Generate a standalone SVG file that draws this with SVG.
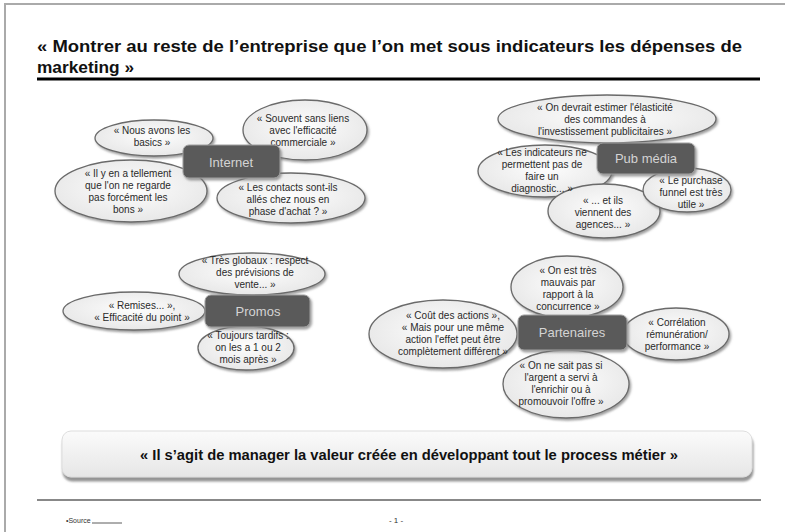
<svg xmlns="http://www.w3.org/2000/svg" width="785" height="532" viewBox="0 0 785 532">
<defs>
<radialGradient id="eg" cx="50%" cy="45%" r="60%">
<stop offset="0" stop-color="#fdfdfd"/>
<stop offset="1" stop-color="#e6e6e6"/>
</radialGradient>
<linearGradient id="bg" x1="0" y1="0" x2="0" y2="1">
<stop offset="0" stop-color="#fbfbfb"/>
<stop offset="1" stop-color="#e6e6e6"/>
</linearGradient>
<filter id="sh" x="-20%" y="-20%" width="140%" height="150%">
<feDropShadow dx="1.5" dy="2" stdDeviation="1.2" flood-color="#777" flood-opacity="0.7"/>
</filter>
<filter id="bsh" x="-5%" y="-20%" width="110%" height="150%">
<feDropShadow dx="1" dy="4" stdDeviation="0.8" flood-color="#888" flood-opacity="0.9"/>
</filter>
</defs>
<style>
.el{fill:url(#eg);stroke:#6a6a6a;stroke-width:1.3;filter:url(#sh)}
.bx{fill:#5a5a5a;stroke:#a0a0a0;stroke-width:1;filter:url(#sh)}
.t{font-family:"Liberation Sans",Arial,sans-serif;font-size:10px;fill:#2a2a2a;text-anchor:middle}
.bl{font-family:"Liberation Sans",Arial,sans-serif;font-size:13px;fill:#d4d4d4;text-anchor:middle}
.title{font-family:"Liberation Sans",Arial,sans-serif;font-size:16px;font-weight:bold;fill:#111}
</style>
<rect width="785" height="532" fill="#fff"/>
<path d="M5 532 V4 H785" fill="none" stroke="#aaa" stroke-width="2"/>
<text class="title" x="37" y="52" textLength="705" lengthAdjust="spacingAndGlyphs">« Montrer au reste de l’entreprise que l’on met sous indicateurs les dépenses de</text>
<text class="title" x="37" y="73" textLength="97" lengthAdjust="spacingAndGlyphs">marketing »</text>
<line x1="37" y1="79" x2="760" y2="79" stroke="#000" stroke-width="3"/>
<g id="connectors"/>
<g id="internet">
<ellipse class="el" cx="154" cy="138" rx="59" ry="18"/>
<text class="t"><tspan x="152" y="133.5">« Nous avons les</tspan><tspan x="152" y="145.5">basics »</tspan></text>
<ellipse class="el" cx="305" cy="130" rx="62" ry="30"/>
<text class="t"><tspan x="303" y="121.5">« Souvent sans liens</tspan><tspan x="303" y="133.5">avec l'efficacité</tspan><tspan x="303" y="145.5">commerciale »</tspan></text>
<ellipse class="el" cx="131" cy="191" rx="76" ry="31"/>
<text class="t"><tspan x="128" y="176.5">« Il y en a tellement</tspan><tspan x="128" y="188.5">que l'on ne regarde</tspan><tspan x="128" y="200.5">pas forcément les</tspan><tspan x="128" y="212.5">bons »</tspan></text>
<ellipse class="el" cx="291" cy="198" rx="74" ry="25"/>
<text class="t"><tspan x="288" y="190.5">« Les contacts sont-ils</tspan><tspan x="288" y="202.5">allés chez nous en</tspan><tspan x="288" y="214.5">phase d'achat ? »</tspan></text>
<rect class="bx" x="183" y="145" width="97" height="33" rx="6"/>
<text class="bl" x="231" y="166.5">Internet</text>
</g>
<g id="pubmedia">
<ellipse class="el" cx="607" cy="119" rx="109" ry="24"/>
<text class="t"><tspan x="605" y="110.5">« On devrait estimer l'élasticité</tspan><tspan x="605" y="122.5">des commandes à</tspan><tspan x="605" y="134.5">l'investissement publicitaires »</tspan></text>
<ellipse class="el" cx="545" cy="171" rx="67" ry="26"/>
<ellipse class="el" cx="604" cy="211" rx="56" ry="27"/>
<text class="t"><tspan x="603" y="203.5">« ... et ils</tspan><tspan x="603" y="215.5">viennent des</tspan><tspan x="603" y="227.5">agences... »</tspan></text>
<ellipse class="el" cx="687" cy="190" rx="44" ry="22"/>
<text class="t"><tspan x="691" y="183.5">« Le purchase</tspan><tspan x="691" y="195.5">funnel est très</tspan><tspan x="691" y="207.5">utile »</tspan></text>
<rect class="bx" x="597" y="143" width="98" height="31" rx="6"/>
<text class="t"><tspan x="542" y="155.5">« Les indicateurs ne</tspan><tspan x="542" y="167.5">permettent pas de</tspan><tspan x="542" y="179.5">faire un</tspan><tspan x="542" y="191.5">diagnostic... »</tspan></text>
<text class="bl" x="646" y="162.5">Pub média</text>
</g>
<g id="promos">
<ellipse class="el" cx="252" cy="274" rx="73" ry="21"/>
<text class="t"><tspan x="255" y="263.5">« Très globaux : respect</tspan><tspan x="255" y="275.5">des prévisions de</tspan><tspan x="255" y="287.5">vente... »</tspan></text>
<ellipse class="el" cx="134" cy="311" rx="71" ry="19"/>
<text class="t"><tspan x="142" y="309">« Remises... »,</tspan><tspan x="142" y="321">« Efficacité du point »</tspan></text>
<ellipse class="el" cx="246" cy="348" rx="48" ry="22"/>
<text class="t"><tspan x="248" y="338.5">« Toujours tardifs :</tspan><tspan x="248" y="350.5">on les a 1 ou 2</tspan><tspan x="248" y="362.5">mois après »</tspan></text>
<rect class="bx" x="205" y="295" width="105" height="32" rx="6"/>
<text class="bl" x="258" y="315.5">Promos</text>
</g>
<g id="partenaires">
<ellipse class="el" cx="567" cy="287" rx="56" ry="31"/>
<text class="t"><tspan x="568" y="273.5">« On est très</tspan><tspan x="568" y="285.5">mauvais par</tspan><tspan x="568" y="297.5">rapport à la</tspan><tspan x="568" y="309.5">concurrence »</tspan></text>
<ellipse class="el" cx="443" cy="334" rx="74" ry="34"/>
<text class="t"><tspan x="453" y="318.5">« Coût des actions »,</tspan><tspan x="453" y="330.5">« Mais pour une même</tspan><tspan x="453" y="342.5">action l'effet peut être</tspan><tspan x="453" y="354.5">complètement différent »</tspan></text>
<ellipse class="el" cx="676" cy="334" rx="53" ry="26"/>
<text class="t"><tspan x="677" y="325.5">« Corrélation</tspan><tspan x="677" y="337.5">rémunération/</tspan><tspan x="677" y="349.5">performance »</tspan></text>
<ellipse class="el" cx="566" cy="384" rx="63" ry="34"/>
<text class="t"><tspan x="561" y="368.5">« On ne sait pas si</tspan><tspan x="561" y="380.5">l'argent a servi à</tspan><tspan x="561" y="392.5">l'enrichir ou à</tspan><tspan x="561" y="404.5">promouvoir l'offre »</tspan></text>
<rect class="bx" x="518" y="315" width="109" height="35" rx="6"/>
<text class="bl" x="572" y="337">Partenaires</text>
</g>
<g id="banner">
<rect x="62" y="431" width="690" height="46" rx="9" fill="url(#bg)" stroke="#ddd" stroke-width="1" filter="url(#bsh)"/>
<text x="140" y="460" font-family="'Liberation Sans',Arial,sans-serif" font-size="14" font-weight="bold" fill="#111" textLength="538" lengthAdjust="spacingAndGlyphs">« Il s’agit de manager la valeur créée en développant tout le process métier »</text>
</g>
<line x1="37" y1="500" x2="761" y2="500" stroke="#888" stroke-width="2"/>
<text x="66" y="523" font-family="'Liberation Sans',Arial,sans-serif" font-size="7" fill="#333">•Source</text>
<line x1="92" y1="523" x2="122" y2="523" stroke="#333" stroke-width="0.8"/>
<text x="396" y="523" font-family="'Liberation Sans',Arial,sans-serif" font-size="8" fill="#333" text-anchor="middle">- 1 -</text>
</svg>
